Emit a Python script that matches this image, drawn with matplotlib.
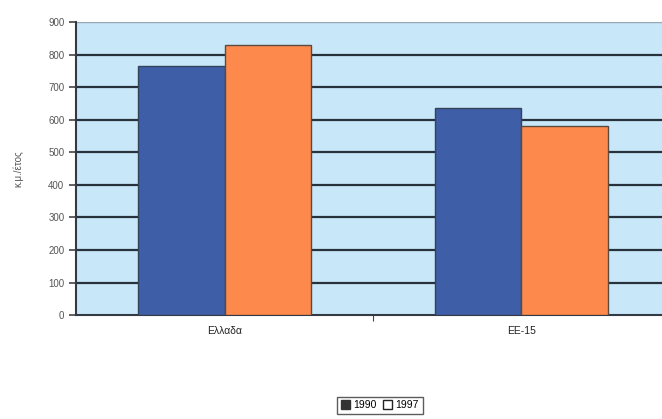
import matplotlib.pyplot as plt
import matplotlib.patches as mpatches
import numpy as np

plt.rcParams['font.family'] = ['Liberation Sans', 'DejaVu Sans']

categories = ['Ελλαδα', 'ΕΕ-15']
years = ['1990', '1997']
values_1990 = [765, 635]
values_1997 = [830, 580]
y_ticks = [0, 100, 200, 300, 400, 500, 600, 700, 800, 900]

BLUE = '#3f5ea8'
ORANGE = '#fd8a4c'
BG = '#c8e7f8'
GRID = '#27323d'

fig = plt.figure(figsize=(6.62, 4.19), dpi=100)
ax = fig.add_axes([0.115, 0.248, 0.897, 0.699])
ax.set_facecolor(BG)

x = np.arange(len(categories))
w = 0.29
ax.bar(x - w / 2, values_1990, w, color=BLUE, edgecolor='#34435a', linewidth=1.0, zorder=3)
ax.bar(x + w / 2, values_1997, w, color=ORANGE, edgecolor='#5a4a40', linewidth=1.0, zorder=3)

ax.set_xlim(-0.5, 1.5)
ax.set_ylim(0, 900)
ax.set_yticks(y_ticks)
ax.set_yticklabels([str(t) for t in y_ticks], fontsize=7, color='#555555')
# gridlines except the top one, which is a thin light border
for t in y_ticks[1:-1]:
    ax.axhline(t, color=GRID, linewidth=1.6, zorder=1)
ax.axhline(y_ticks[-1], color='#9aa8b4', linewidth=1.0, zorder=1)

ax.set_xticks([0.5])
ax.set_xticklabels([''])
ax.tick_params(axis='x', length=4, color='#444444')
ax.tick_params(axis='y', length=5, color='#444444', width=1.2)
for i, c in enumerate(categories):
    ax.text(i, -50, c, ha='center', va='center', fontsize=7.5, color='#222222')

for s in ['top', 'right']:
    ax.spines[s].set_visible(False)
ax.spines['left'].set_color('#333a44')
ax.spines['left'].set_linewidth(1.5)
ax.spines['bottom'].set_color('#333a44')
ax.spines['bottom'].set_linewidth(1.5)

ax.set_ylabel('κ.μ./έτος', fontsize=7, color='#555555', labelpad=18)

handles = [mpatches.Patch(facecolor='#333333', edgecolor='#333333', label=years[0]),
           mpatches.Patch(facecolor='white', edgecolor='#222222', label=years[1])]
fig.legend(handles=handles, loc='center', bbox_to_anchor=(0.574, 0.033), ncol=2,
           fontsize=7.5, frameon=True, fancybox=False, edgecolor='#333333',
           handlelength=0.9, handleheight=0.9, handletextpad=0.3, columnspacing=0.6,
           borderpad=0.35)

fig.savefig('out.png', dpi=100)
